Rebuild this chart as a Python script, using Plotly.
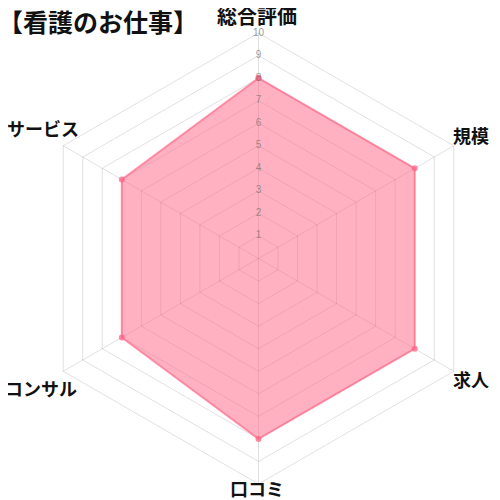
import plotly.graph_objects as go

title_text = "【看護のお仕事】"
categories = ["総合評価", "規模", "求人", "口コミ", "コンサル", "サービス"]
values = [8, 8, 8, 8, 7, 7]
tick_values = [1, 2, 3, 4, 5, 6, 7, 8, 9, 10]
tick_labels = [str(v) for v in tick_values]

# axis-label placement in figure pixels (layout only)
label_xy = [(249, 7), (463, 127), (463, 371), (249, 480), (33, 380), (35, 120)]
label_size = [20, 18, 18, 18, 18, 18]

font_family = "Noto Sans CJK JP, Noto Sans, sans-serif"

fig = go.Figure()

fig.add_trace(go.Scatterpolar(
    r=values + values[:1],
    theta=categories + categories[:1],
    mode="lines+markers",
    fill="toself",
    fillcolor="rgba(255,99,132,0.5)",
    line=dict(color="rgba(255,99,132,0.65)", width=2),
    marker=dict(color="rgba(255,99,132,0.75)", size=6),
    hoverinfo="skip",
    showlegend=False,
))

fig.add_trace(go.Scatterpolar(
    r=tick_values,
    theta=[categories[0]] * len(tick_values),
    mode="text",
    text=tick_labels,
    textfont=dict(family="Liberation Sans, Arial, sans-serif", size=10, color="rgba(120,120,120,0.75)"),
    textposition="middle center",
    hoverinfo="skip",
    showlegend=False,
))

fig.update_layout(
    width=500,
    height=500,
    margin=dict(l=0, r=0, t=0, b=0),
    paper_bgcolor="white",
    plot_bgcolor="white",
    font=dict(family=font_family),
    polar=dict(
        domain=dict(x=[0.05, 0.952], y=[0.048, 0.95]),
        bgcolor="white",
        gridshape="linear",
        radialaxis=dict(
            range=[0, 10],
            tickvals=tick_values,
            showticklabels=False,
            ticks="",
            showline=False,
            gridcolor="rgba(0,0,0,0.12)",
            gridwidth=1,
        ),
        angularaxis=dict(
            rotation=90,
            direction="clockwise",
            categoryorder="array",
            categoryarray=categories,
            showline=True,
            showticklabels=False,
            linecolor="rgba(0,0,0,0.12)",
            gridcolor="rgba(0,0,0,0.12)",
            ticks="",
        ),
    ),
)

for name, (px, py), size in zip(categories, label_xy, label_size):
    fig.add_annotation(
        text=name,
        xref="paper", yref="paper",
        x=px / 500, y=1 - py / 500,
        xanchor="center", yanchor="middle",
        showarrow=False,
        font=dict(family=font_family, size=size, color="#111111", weight="bold"),
    )

fig.add_annotation(
    text=title_text,
    xref="paper", yref="paper",
    x=0.0, y=1 - 13 / 500,
    xanchor="left", yanchor="middle",
    xshift=-12,
    showarrow=False,
    font=dict(family=font_family, size=25, color="#111111", weight="bold"),
)

fig.write_html("out.html")
